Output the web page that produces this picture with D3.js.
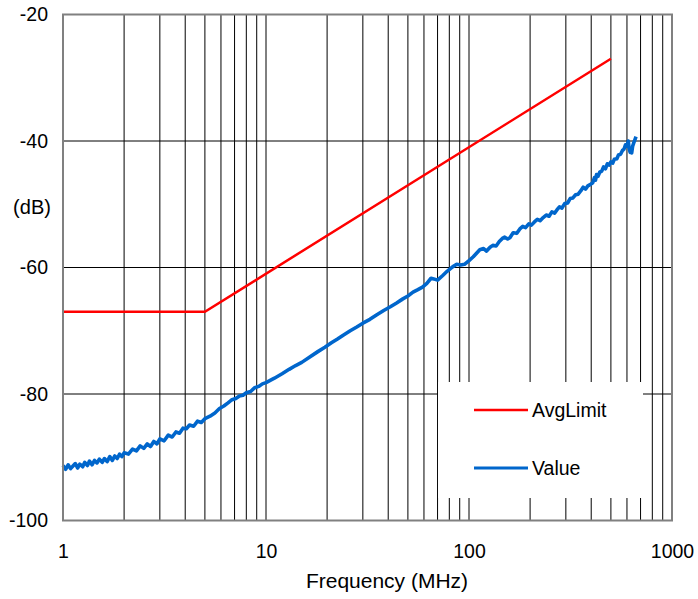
<!DOCTYPE html>
<html>
<head>
<meta charset="utf-8">
<script src="https://cdn.jsdelivr.net/npm/d3@7"></script>
<style>
  body { margin: 0; background: #fff; }
  text { font-family: Arial, "Liberation Sans", sans-serif; fill: #000; }
</style>
</head>
<body>
<svg id="chart" width="698" height="599"></svg>
<script>
// ---------- data ----------
const xTickValues = [1, 10, 100, 1000];
const xTickLabels = ["1", "10", "100", "1000"];
const yTickValues = [-20, -40, -60, -80, -100];
const yTickLabels = ["-20", "-40", "-60", "-80", "-100"];
const xGridValues = [2,3,4,5,6,7,8,9,10,20,30,40,50,60,70,80,90,100,200,300,400,500,600,700,800,900];
const yGridValues = [-40, -60, -80];
const seriesNames = ["AvgLimit", "Value"];

const avgLimitFreq = [1, 5, 500];
const avgLimitDb   = [-67, -67, -27];

const valueFreq = [
  1.00,1.03,1.06,1.09,1.12,1.15,1.18,1.21,1.25,1.28,1.32,1.35,1.39,1.43,1.47,1.51,1.56,1.60,1.65,1.70,1.75,1.80,1.85,1.90,1.95,2.00,
  2.1,2.2,2.3,2.4,2.5,2.6,2.7,2.8,2.9,3.0,3.15,3.3,3.45,3.6,3.75,3.9,4.05,4.2,4.4,4.6,4.8,5.0,
  5.3,5.6,5.9,6.2,6.5,6.8,7.1,7.4,7.7,8.0,8.4,8.8,9.2,9.6,10.0,
  11,12,13,14,15,16.5,18,19.5,21,22.5,24,26,28,30,32.5,35,38,41,44,47,50,53,56,59,62,65,67,70,74,78,83,87,91,95,100,105,
  113,118,122,127,131,136,141,146,150,155,159,165,172,178,184,190,197,203,210,217,224,232,240,248,256,264,271,279,287,296,
  306,315,325,335,345,355,365,375,385,395,407,415,420,425,432,441,450,460,470,480,490,500,510,520,535,545,558,570,580,590,
  600,609,615,622,628,633,640,648,655,665
];
const valueDb = [
  -91.3,-91.9,-91.2,-91.8,-91.4,-91.0,-91.7,-91.1,-91.5,-90.8,-91.3,-90.6,-91.2,-90.5,-90.9,-90.3,-90.8,-90.2,-90.7,-89.9,-90.5,-89.8,-90.2,-89.5,-89.9,-89.3,
  -89.5,-88.7,-89.0,-88.2,-88.6,-87.9,-88.3,-87.5,-87.9,-87.1,-87.4,-86.5,-86.8,-86.0,-86.2,-85.4,-85.5,-84.9,-85.1,-84.3,-84.5,-83.9,
  -83.5,-83.0,-82.3,-81.9,-81.4,-80.9,-80.7,-80.3,-80.2,-79.8,-79.6,-79.0,-78.8,-78.4,-78.2,
  -77.5,-76.8,-76.1,-75.5,-75.0,-74.1,-73.3,-72.6,-71.9,-71.3,-70.7,-70.0,-69.4,-68.8,-68.2,-67.5,-66.8,-66.2,-65.6,-65.0,-64.5,-63.9,-63.5,-63.1,-62.5,-61.7,-61.8,-62.0,-61.3,-60.6,-59.9,-59.5,-59.6,-59.5,-58.9,-58.3,
  -57.2,-57.0,-57.4,-56.8,-56.5,-56.6,-55.9,-55.4,-55.2,-55.5,-55.3,-54.5,-54.6,-53.9,-53.5,-53.7,-53.1,-53.3,-52.8,-52.4,-52.6,-52.1,-51.7,-51.9,-51.2,-51.4,-50.9,-50.4,-50.6,-49.9,
  -49.8,-49.1,-49.0,-48.5,-48.4,-47.9,-47.3,-47.6,-47.1,-46.9,-46.6,-45.8,-46.2,-45.3,-45.6,-44.9,-44.8,-44.1,-44.4,-43.6,-43.8,-43.3,-43.5,-42.9,-42.8,-42.2,-42.1,-41.5,-41.3,-40.6,
  -40.8,-40.0,-41.2,-41.8,-41.3,-41.9,-40.8,-40.3,-39.9,-39.3
];

// ---------- layout ----------
const svg = d3.select("#chart");
const x = d3.scaleLog().domain([1, 1000]).range([63, 672]);
const y = d3.scaleLinear().domain([-100, -20]).range([520.5, 14.5]);

// grid
const grid = svg.append("g");
grid.selectAll("line.v").data(xGridValues).join("line")
  .attr("x1", d => x(d)).attr("x2", d => x(d))
  .attr("y1", y(-20)).attr("y2", y(-100))
  .attr("stroke", "#000").attr("stroke-width", 1);
grid.selectAll("line.h").data(yGridValues).join("line")
  .attr("x1", x(1)).attr("x2", x(1000))
  .attr("y1", d => y(d)).attr("y2", d => y(d))
  .attr("stroke", "#000").attr("stroke-width", 1);

// legend background
const legend = svg.append("g");
legend.append("rect").attr("x", 438).attr("y", 382).attr("width", 205).attr("height", 116).attr("fill", "#fff");

// lines
const line = d3.line().x(d => x(d[0])).y(d => y(d[1]));
const limitData = avgLimitFreq.map((f, i) => [f, avgLimitDb[i]]);
const valueData = valueFreq.map((f, i) => [f, valueDb[i]]);
svg.append("path").datum(limitData).attr("d", line)
  .attr("fill", "none").attr("stroke", "#ff0000").attr("stroke-width", 2.5);
svg.append("path").datum(valueData).attr("d", line)
  .attr("fill", "none").attr("stroke", "#0066cc").attr("stroke-width", 3.6).attr("stroke-linejoin", "round");

// border
svg.append("rect").attr("x", 63).attr("y", 14.5).attr("width", 609).attr("height", 506)
  .attr("fill", "none").attr("stroke", "#808080").attr("stroke-width", 2);

// axes
const xAxis = d3.axisBottom(x).tickValues(xTickValues).tickFormat((d, i) => xTickLabels[i]).tickSize(0).tickPadding(24);
const gx = svg.append("g").attr("transform", `translate(0,${y(-100)})`).call(xAxis);
gx.select(".domain").remove();
gx.selectAll("text").style("font-size", "19.5px").style("font-family", "Arial, 'Liberation Sans', sans-serif");

const yAxis = d3.axisLeft(y).tickValues(yTickValues).tickFormat((d, i) => yTickLabels[i]).tickSize(0).tickPadding(15);
const gy = svg.append("g").attr("transform", `translate(${x(1)},0)`).call(yAxis);
gy.select(".domain").remove();
gy.selectAll("text").style("font-size", "19.5px").style("font-family", "Arial, 'Liberation Sans', sans-serif");

svg.append("text").attr("x", 387).attr("y", 588).attr("text-anchor", "middle")
  .style("font-size", "21px").text("Frequency (MHz)");
svg.append("text").attr("x", 32).attr("y", 214).attr("text-anchor", "middle")
  .style("font-size", "20px").text("(dB)");

// legend entries
const legendColors = ["#ff0000", "#0066cc"];
const legendY = [410, 468];
seriesNames.forEach((name, i) => {
  legend.append("line").attr("x1", 474).attr("x2", 528).attr("y1", legendY[i]).attr("y2", legendY[i])
    .attr("stroke", legendColors[i]).attr("stroke-width", i === 0 ? 2.5 : 3);
  legend.append("text").attr("x", 532).attr("y", legendY[i]).attr("dy", "0.35em")
    .style("font-size", "19.5px").text(name);
});
</script>
</body>
</html>
